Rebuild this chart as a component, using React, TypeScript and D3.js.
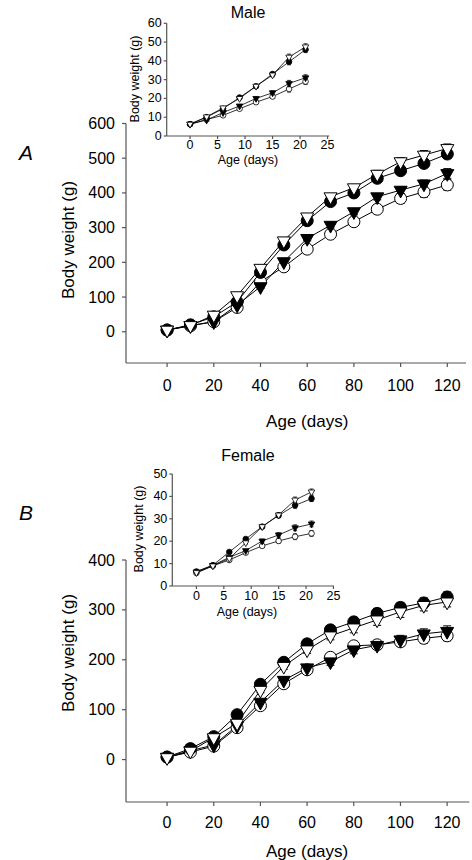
import React from "react";
import * as d3 from "d3";

const FONT = "'Liberation Sans', Arial, Helvetica, sans-serif";

// ---------- Data ----------
const daysMain = [0, 10, 20, 30, 40, 50, 60, 70, 80, 90, 100, 110, 120];
const daysInset = [0, 3, 6, 9, 12, 15, 18, 21];

// Male (panel A) main
const maleFilledCircle = [5, 20, 43, 86, 171, 250, 320, 375, 400, 442, 464, 485, 512];
const maleOpenCircle = [5, 17, 29, 70, 144, 187, 238, 281, 317, 353, 384, 403, 423];
const maleFilledTri = [5, 18, 29, 77, 130, 202, 269, 307, 346, 389, 408, 426, 456];
const maleOpenTri = [5, 18, 48, 104, 183, 262, 331, 389, 415, 454, 490, 509, 528];
const maleFilledCircleErr = [1, 2, 3, 4, 6, 7, 8, 8, 9, 10, 10, 11, 13];
const maleOpenCircleErr = [1, 2, 3, 4, 5, 6, 7, 8, 9, 10, 14, 15, 15];
const maleFilledTriErr = [1, 2, 3, 4, 5, 6, 7, 8, 9, 9, 10, 11, 14];
const maleOpenTriErr = [1, 2, 3, 4, 5, 6, 7, 8, 9, 11, 12, 13, 13];

// Female (panel B) main
const femaleFilledCircle = [5, 22, 46, 90, 151, 195, 232, 260, 276, 293, 305, 314, 326];
const femaleOpenCircle = [5, 15, 27, 64, 108, 152, 180, 205, 228, 230, 236, 243, 248];
const femaleFilledTri = [5, 18, 29, 68, 115, 159, 184, 196, 220, 229, 240, 252, 257];
const femaleOpenTri = [4, 17, 44, 73, 139, 187, 220, 248, 264, 280, 296, 309, 316];
const femaleFilledCircleErr = [1, 2, 3, 4, 5, 6, 7, 8, 9, 10, 10, 10, 10];
const femaleOpenCircleErr = [1, 2, 3, 4, 5, 6, 6, 7, 8, 8, 9, 10, 10];
const femaleFilledTriErr = [1, 2, 3, 4, 5, 6, 6, 7, 8, 8, 9, 10, 11];
const femaleOpenTriErr = [1, 2, 3, 4, 5, 6, 7, 8, 10, 11, 11, 11, 10];

// Male inset
const maleInsetFilledCircle = [6.3, 10, 14.5, 20.5, 26.5, 33, 39.5, 46];
const maleInsetOpenCircle = [6.3, 8.8, 11, 14.5, 18, 21, 25, 29];
const maleInsetFilledTri = [6.3, 8.5, 12.5, 16, 20, 23, 28, 31];
const maleInsetOpenTri = [6.3, 10.2, 15, 20, 26.5, 32.5, 42, 47.5];
const maleInsetErr = [0.3, 0.4, 0.5, 0.6, 0.8, 1, 1.6, 1.6];

// Female inset
const femaleInsetFilledCircle = [6.5, 9.3, 15.2, 21, 26.5, 31.5, 36, 39];
const femaleInsetOpenCircle = [5.8, 9, 11.6, 14.9, 17.9, 20.1, 22, 23.5];
const femaleInsetFilledTri = [6.3, 9.2, 12.8, 15.8, 20.1, 22.8, 26, 27.7];
const femaleInsetOpenTri = [6, 9, 12.3, 19.3, 26.5, 31.7, 38.4, 42];
const femaleInsetErr = [0.3, 0.4, 0.5, 0.6, 0.8, 1, 1.3, 1.3];

const mainXTicks = [0, 20, 40, 60, 80, 100, 120];
const maleYTicks = [0, 100, 200, 300, 400, 500, 600];
const femaleYTicks = [0, 100, 200, 300, 400];
const insetXTicks = [0, 5, 10, 15, 20, 25];
const maleInsetYTicks = [0, 10, 20, 30, 40, 50, 60];
const femaleInsetYTicks = [0, 10, 20, 30, 40, 50];

// ---------- Drawing helpers ----------
type Series = { values: number[]; err: number[]; shape: "circle" | "tri"; filled: boolean };

const AXIS = "#555";

function triPath(cx: number, cy: number, w: number) {
  const h = w * 0.9;
  return `M${cx - w / 2},${cy - h / 3}L${cx + w / 2},${cy - h / 3}L${cx},${cy + (2 * h) / 3}Z`;
}

type PlotProps = {
  x: d3.ScaleLinear<number, number>;
  y: d3.ScaleLinear<number, number>;
  xTicks: number[];
  yTicks: number[];
  days: number[];
  series: Series[];
  r: number;
  tri: number;
  tickLen: number;
  fontSize: number;
  xLabelDy: number;
  yLabelGap: number;
  lineW: number;
  capW: number;
};

function Plot(p: PlotProps) {
  const [x0, x1] = p.x.range();
  const [yb, yt] = p.y.range();
  const line = d3
    .line<number>()
    .x((_, i) => p.x(p.days[i]))
    .y((v) => p.y(v));
  return (
    <g>
      <line x1={x0} x2={x0} y1={yt} y2={yb} stroke={AXIS} strokeWidth={1.2} />
      <line x1={x0} x2={x1} y1={yb} y2={yb} stroke={AXIS} strokeWidth={1.2} />
      {p.yTicks.map((t) => (
        <g key={"y" + t}>
          <line x1={x0 - p.tickLen} x2={x0} y1={p.y(t)} y2={p.y(t)} stroke={AXIS} strokeWidth={1.2} />
          <text
            x={x0 - p.tickLen - p.yLabelGap}
            y={p.y(t)}
            textAnchor="end"
            dominantBaseline="central"
            fontSize={p.fontSize}
            fontFamily={FONT}
          >
            {t}
          </text>
        </g>
      ))}
      {p.xTicks.map((t) => (
        <g key={"x" + t}>
          <line x1={p.x(t)} x2={p.x(t)} y1={yb} y2={yb + p.tickLen} stroke={AXIS} strokeWidth={1.2} />
          <text
            x={p.x(t)}
            y={yb + p.xLabelDy}
            textAnchor="middle"
            dominantBaseline="central"
            fontSize={p.fontSize}
            fontFamily={FONT}
          >
            {t}
          </text>
        </g>
      ))}
      {p.series.map((s, si) => (
        <path key={"l" + si} d={line(s.values) || ""} fill="none" stroke="#000" strokeWidth={p.lineW} />
      ))}
      {p.series.map((s, si) =>
        s.values.map((v, i) => {
          const cx = p.x(p.days[i]);
          const ya = p.y(v + s.err[i]);
          const yb2 = p.y(v - s.err[i]);
          return (
            <g key={"e" + si + "-" + i} stroke="#000" strokeWidth={p.lineW}>
              <line x1={cx} x2={cx} y1={ya} y2={yb2} />
              <line x1={cx - p.capW} x2={cx + p.capW} y1={ya} y2={ya} />
              <line x1={cx - p.capW} x2={cx + p.capW} y1={yb2} y2={yb2} />
            </g>
          );
        })
      )}
      {p.series.map((s, si) =>
        s.values.map((v, i) => {
          const cx = p.x(p.days[i]);
          const cy = p.y(v);
          const fill = s.filled ? "#000" : "#fff";
          return s.shape === "circle" ? (
            <circle key={"m" + si + "-" + i} cx={cx} cy={cy} r={p.r} fill={fill} stroke="#000" strokeWidth={p.lineW} />
          ) : (
            <path key={"m" + si + "-" + i} d={triPath(cx, cy, p.tri)} fill={fill} stroke="#000" strokeWidth={p.lineW} />
          );
        })
      )}
    </g>
  );
}

function YTitle({ x, y, size, text }: { x: number; y: number; size: number; text: string }) {
  return (
    <text
      transform={`translate(${x},${y}) rotate(-90)`}
      textAnchor="middle"
      dominantBaseline="central"
      fontSize={size}
      fontFamily={FONT}
    >
      {text}
    </text>
  );
}

function Label({ x, y, size, text, italic }: { x: number; y: number; size: number; text: string; italic?: boolean }) {
  return (
    <text
      x={x}
      y={y}
      textAnchor="middle"
      dominantBaseline="central"
      fontSize={size}
      fontFamily={FONT}
      fontStyle={italic ? "italic" : "normal"}
    >
      {text}
    </text>
  );
}

export default function App() {
  const xA = d3.scaleLinear().domain([-17.6, 128]).range([126, 466]);
  const yA = d3.scaleLinear().domain([-90, 600]).range([363, 123.5]);
  const xB = d3.scaleLinear().domain([-17.6, 129.5]).range([126, 469.3]);
  const yB = d3.scaleLinear().domain([-85, 400]).range([802, 560]);
  const xAi = d3.scaleLinear().domain([-4.25, 25.3]).range([166.7, 329.2]);
  const yAi = d3.scaleLinear().domain([0, 60]).range([136, 23.3]);
  const xBi = d3.scaleLinear().domain([-4.4, 25.1]).range([172.3, 334]);
  const yBi = d3.scaleLinear().domain([0, 50]).range([586, 474]);

  const mk = (fc: number[], oc: number[], ft: number[], ot: number[], e: number[][]): Series[] => [
    { values: oc, err: e[1], shape: "circle", filled: false },
    { values: ft, err: e[2], shape: "tri", filled: true },
    { values: fc, err: e[0], shape: "circle", filled: true },
    { values: ot, err: e[3], shape: "tri", filled: false },
  ];

  const maleMain = mk(maleFilledCircle, maleOpenCircle, maleFilledTri, maleOpenTri, [
    maleFilledCircleErr,
    maleOpenCircleErr,
    maleFilledTriErr,
    maleOpenTriErr,
  ]);
  const femaleMain = mk(femaleFilledCircle, femaleOpenCircle, femaleFilledTri, femaleOpenTri, [
    femaleFilledCircleErr,
    femaleOpenCircleErr,
    femaleFilledTriErr,
    femaleOpenTriErr,
  ]);
  const maleIn = mk(maleInsetFilledCircle, maleInsetOpenCircle, maleInsetFilledTri, maleInsetOpenTri, [
    maleInsetErr,
    maleInsetErr,
    maleInsetErr,
    maleInsetErr,
  ]);
  const femaleIn = mk(femaleInsetFilledCircle, femaleInsetOpenCircle, femaleInsetFilledTri, femaleInsetOpenTri, [
    femaleInsetErr,
    femaleInsetErr,
    femaleInsetErr,
    femaleInsetErr,
  ]);

  const mainCommon = { r: 6, tri: 13, tickLen: 4, fontSize: 16, yLabelGap: 7, lineW: 1, capW: 4 };
  const insetCommon = { r: 2.8, tri: 6.5, tickLen: 3, fontSize: 12.5, yLabelGap: 2, lineW: 0.8, capW: 2 };

  return (
    <svg width={472} height={860} style={{ position: "absolute", left: 0, top: 0, background: "#fff" }}>
      <rect width={472} height={860} fill="#fff" />
      {/* Panel A */}
      <Label x={26} y={152} size={21} text="A" italic />
      <Plot x={xA} y={yA} xTicks={mainXTicks} yTicks={maleYTicks} days={daysMain} series={maleMain} xLabelDy={22} {...mainCommon} />
      <YTitle x={68} y={240} size={17} text="Body weight (g)" />
      <Label x={xA(60)} y={421} size={17} text="Age (days)" />
      <Label x={248} y={12} size={16} text="Male" />
      <Plot x={xAi} y={yAi} xTicks={insetXTicks} yTicks={maleInsetYTicks} days={daysInset} series={maleIn} xLabelDy={9} {...insetCommon} />
      <YTitle x={135} y={79} size={12.5} text="Body weight (g)" />
      <Label x={248} y={160} size={12.5} text="Age (days)" />

      {/* Panel B */}
      <Label x={26} y={512} size={21} text="B" italic />
      <Plot x={xB} y={yB} xTicks={mainXTicks} yTicks={femaleYTicks} days={daysMain} series={femaleMain} xLabelDy={20} {...mainCommon} />
      <YTitle x={68} y={653} size={17} text="Body weight (g)" />
      <Label x={xB(60)} y={851} size={17} text="Age (days)" />
      <Label x={248} y={455} size={16} text="Female" />
      <Plot x={xBi} y={yBi} xTicks={insetXTicks} yTicks={femaleInsetYTicks} days={daysInset} series={femaleIn} xLabelDy={10} {...insetCommon} />
      <YTitle x={139} y={529} size={12.5} text="Body weight (g)" />
      <Label x={247} y={612} size={12.5} text="Age (days)" />
    </svg>
  );
}
